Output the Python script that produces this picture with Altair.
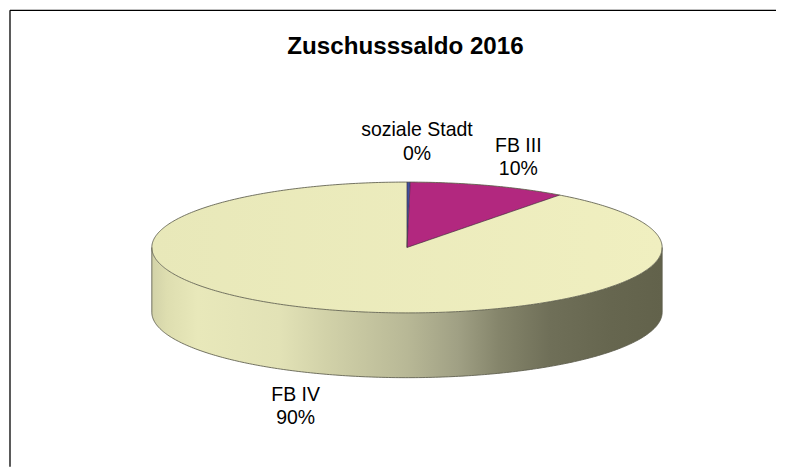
import numpy as np
import pandas as pd
import altair as alt

categories = ["soziale Stadt", "FB III", "FB IV"]
shares = [0.2, 10.0, 89.8]
colors = ["#3f4f9f", "#b2287f", "#ecebbd"]
title_text = "Zuschusssaldo 2016"
FONT = "Liberation Sans"

# scales that turn the unit pie into the projected ellipse
xs = alt.Scale(domain=[-1, 1], range=[144, 655], nice=False, zero=False)
ys = alt.Scale(domain=[1, -2], range=[174, 370.5], nice=False, zero=False)
X = alt.X("x:Q", scale=xs, axis=None)
Y = alt.Y("y:Q", scale=ys, axis=None)
DEPTH = 0.99

# slice boundaries (radians, clockwise from the top) follow from the shares
bounds = np.cumsum([0] + shares) / 100 * 2 * np.pi


def sector(t0, t1):
    ts = np.linspace(t0, t1, 40)
    xe = np.sin(ts)
    ye = np.cos(ts)
    xin = np.linspace(0, np.sin(t0), 8)[:-1] if t0 > 0 else np.array([])
    yin = xin / np.tan(t0) if t0 > 0 else np.array([])
    x = np.concatenate([xin, xe])
    y = np.concatenate([yin, ye])
    y2 = x / np.tan(t1)
    return pd.DataFrame({"x": x, "y": y, "y2": y2})


front = np.linspace(np.pi / 2, 3 * np.pi / 2, 240)[::-1]
round_t = np.linspace(-np.pi / 2, np.pi / 2, 240)

wall_df = pd.DataFrame({"x": np.sin(front), "y": np.cos(front), "y2": np.cos(front) - DEPTH})
top_df = pd.DataFrame({"x": np.sin(round_t), "y": np.cos(round_t), "y2": -np.cos(round_t)})

wall_stops = [
    (0.00, "#d2d2a8"), (0.03, "#dedeb0"), (0.09, "#e8e8ba"), (0.25, "#e2e2b6"),
    (0.34, "#d2d2a9"), (0.50, "#b8b896"), (0.60, "#a0a084"), (0.68, "#85856b"),
    (0.78, "#6f6f58"), (0.90, "#66664f"), (1.00, "#62624b"),
]
wall_fill = alt.Gradient(
    gradient="linear", x1=0, x2=1, y1=0, y2=0,
    stops=[alt.GradientStop(offset=o, color=c) for o, c in wall_stops],
)
top_fill = alt.Gradient(
    gradient="linear", x1=0, x2=1, y1=0, y2=0,
    stops=[alt.GradientStop(offset=0, color="#e8e8b9"), alt.GradientStop(offset=1, color="#f0efc0")],
)

wall = alt.Chart(wall_df).mark_area(color=wall_fill).encode(x=X, y=Y, y2="y2:Q")
top = alt.Chart(top_df).mark_area(color=top_fill).encode(x=X, y=Y, y2="y2:Q")
slices = [
    alt.Chart(sector(bounds[i], bounds[i + 1])).mark_area(color=colors[i]).encode(x=X, y=Y, y2="y2:Q")
    for i in range(2)
]

back_t = np.linspace(-np.pi / 2, np.pi / 2, 240)
edges = [
    pd.DataFrame({"x": np.sin(back_t), "y": np.cos(back_t), "e": "back"}),
    pd.DataFrame({"x": np.sin(front), "y": np.cos(front), "e": "front"}),
    pd.DataFrame({"x": np.sin(front), "y": np.cos(front) - DEPTH, "e": "bottom"}),
    pd.DataFrame({"x": [-1, -1], "y": [0, -DEPTH], "e": "left"}),
    pd.DataFrame({"x": [1, 1], "y": [0, -DEPTH], "e": "right"}),
]
rim = (
    alt.Chart(pd.concat(edges, ignore_index=True))
    .mark_line(color="#5c5c4c", strokeWidth=1, opacity=0.85)
    .encode(x=X, y=Y, detail="e:N", order=alt.Order("idx:Q"))
    .transform_window(idx="row_number()", groupby=["e"])
)
radii = []
for i, t in enumerate(bounds[:2]):
    radii.append(pd.DataFrame({"x": [0, np.sin(t)], "y": [0, np.cos(t)], "e": f"r{i}"}))
radii.append(pd.DataFrame({"x": [0, np.sin(bounds[2])], "y": [0, np.cos(bounds[2])], "e": "r2"}))
spokes = (
    alt.Chart(pd.concat(radii, ignore_index=True))
    .mark_line(color="#3a2a3a", strokeWidth=0.8, opacity=0.8)
    .encode(x=X, y=Y, detail="e:N")
)


def label(text, px, py, size=19.5, weight="normal"):
    return (
        alt.Chart(pd.DataFrame({"t": [text]}))
        .mark_text(font=FONT, fontSize=size, fontWeight=weight, color="#000000", align="center", baseline="middle")
        .encode(text="t:N", x=alt.value(px), y=alt.value(py))
    )


pct = [f"{round(s)}%" for s in shares]
texts = [
    label(title_text, 398, 39, size=24.2, weight="bold"),
    label(categories[0], 409.5, 122), label(pct[0], 409.5, 146),
    label(categories[1], 511, 138), label(pct[1], 511, 161),
    label(categories[2], 288, 387), label(pct[2], 288, 410),
]

frame = [
    alt.Chart(pd.DataFrame({"k": [0]})).mark_rule(color="#000000", strokeWidth=1.3).encode(
        x=alt.value(2), y=alt.value(2), y2=alt.value(459)),
    alt.Chart(pd.DataFrame({"k": [0]})).mark_rule(color="#000000", strokeWidth=1.3).encode(
        x=alt.value(2), x2=alt.value(769), y=alt.value(2)),
]

chart = alt.layer(wall, top, *slices, rim, spokes, *frame, *texts).properties(
    width=769, height=459, padding=0, background="#ffffff"
).configure_view(stroke=None)

chart.save("out.html", embed_options={"renderer": "svg", "actions": False})
